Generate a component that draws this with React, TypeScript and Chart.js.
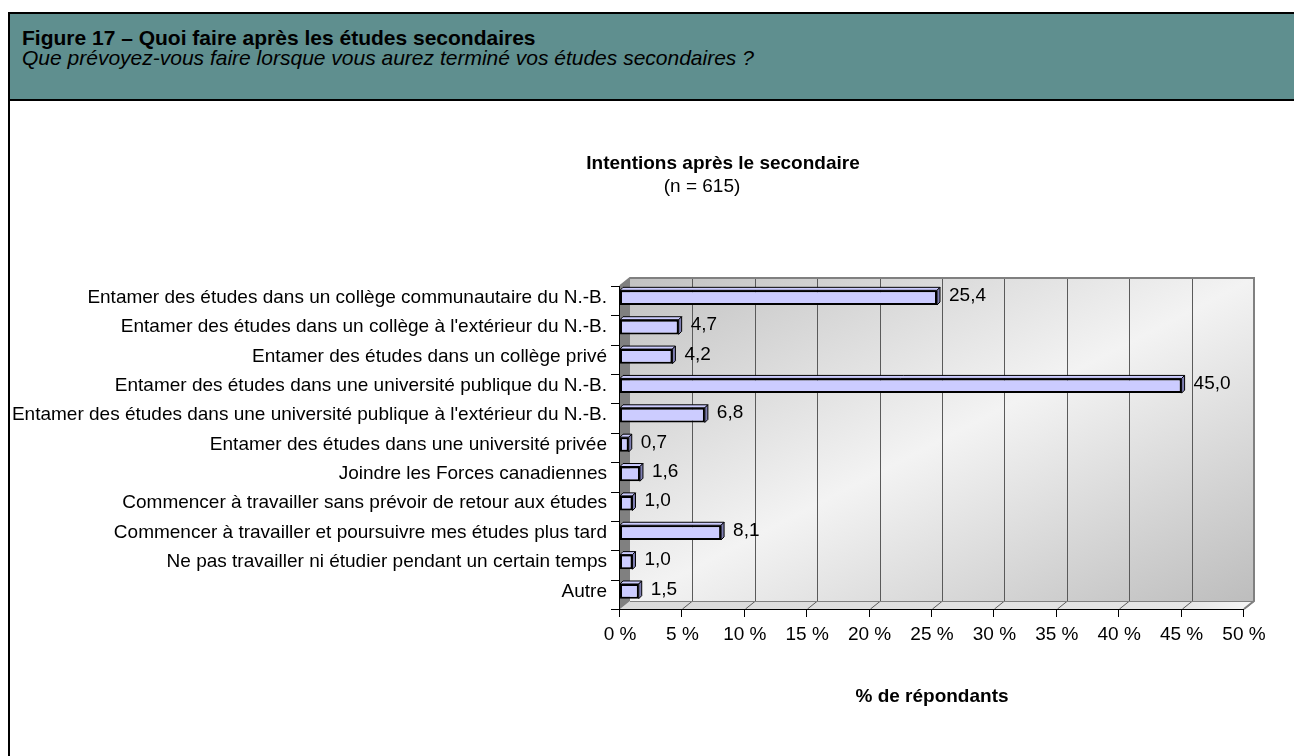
import React, { useEffect, useRef } from "react";
import { Chart, registerables } from "chart.js";

Chart.register(...registerables);

const categories: string[] = [
  "Entamer des études dans un collège communautaire du N.-B.",
  "Entamer des études dans un collège à l'extérieur du N.-B.",
  "Entamer des études dans un collège privé",
  "Entamer des études dans une université publique du N.-B.",
  "Entamer des études dans une université publique à l'extérieur du N.-B.",
  "Entamer des études dans une université privée",
  "Joindre les Forces canadiennes",
  "Commencer à travailler sans prévoir de retour aux études",
  "Commencer à travailler et poursuivre mes études plus tard",
  "Ne pas travailler ni étudier pendant un certain temps",
  "Autre",
];
const values: number[] = [25.4, 4.7, 4.2, 45.0, 6.8, 0.7, 1.6, 1.0, 8.1, 1.0, 1.5];
const xMin = 0;
const xMax = 50;
const xStep = 5;

const figureTitle = "Figure 17 – Quoi faire après les études secondaires";
const figureSubtitle = "Que prévoyez-vous faire lorsque vous aurez terminé vos études secondaires ?";
const chartTitle = "Intentions après le secondaire";
const chartSubtitle = "(n = 615)";
const axisTitle = "% de répondants";

const FONT = "'Liberation Sans', Arial, Helvetica, sans-serif";
const FS = 19;
const D = 10; // depth dx
const DY = 8; // depth dy
const SHIFT = 3; // front plane offset below category bands

const frame3d = {
  id: "frame3d",
  beforeDatasetsDraw(chart: any) {
    const { ctx, chartArea, scales } = chart;
    const xs = scales.x;
    const x0 = xs.getPixelForValue(xMin);
    const x1 = xs.getPixelForValue(xMax);
    const ft = chartArea.top + SHIFT;
    const fb = chartArea.bottom + SHIFT;
    const bt = ft - DY;
    const bb = fb - DY;
    const bl = x0 + D;
    const br = x1 + D;
    const w = br - bl;
    const h = bb - bt;
    ctx.save();
    const cx = (bl + br) / 2;
    const cy = (bt + bb) / 2;
    const len = Math.hypot(w, h);
    const ux = h / len;
    const uy = w / len;
    const proj = (w / 2) * ux + (h / 2) * uy;
    const g = ctx.createLinearGradient(cx - proj * ux, cy - proj * uy, cx + proj * ux, cy + proj * uy);
    g.addColorStop(0, "#c2c2c2");
    g.addColorStop(0.5, "#f3f3f3");
    g.addColorStop(1, "#bdbdbd");
    ctx.fillStyle = g;
    ctx.fillRect(bl, bt, w, h);
    const fg = ctx.createLinearGradient(x0, 0, br, 0);
    fg.addColorStop(0, "#dadada");
    fg.addColorStop(0.9, "#e6e6e6");
    fg.addColorStop(1, "#f6f6f6");
    ctx.fillStyle = fg;
    ctx.beginPath();
    ctx.moveTo(x0, fb);
    ctx.lineTo(x1, fb);
    ctx.lineTo(br, bb);
    ctx.lineTo(bl, bb);
    ctx.closePath();
    ctx.fill();
    ctx.fillStyle = "#808080";
    ctx.beginPath();
    ctx.moveTo(x0, ft);
    ctx.lineTo(bl, bt);
    ctx.lineTo(bl, bb);
    ctx.lineTo(x0, fb);
    ctx.closePath();
    ctx.fill();
    ctx.strokeStyle = "#5a5a5a";
    ctx.lineWidth = 1;
    for (let v = xMin + xStep; v <= xMax; v += xStep) {
      const x = Math.round(xs.getPixelForValue(v)) + 0.5;
      ctx.beginPath();
      ctx.moveTo(x + D, bt);
      ctx.lineTo(x + D, bb);
      ctx.moveTo(x, fb);
      ctx.lineTo(x + D, bb);
      ctx.stroke();
    }
    ctx.strokeStyle = "#808080";
    ctx.lineWidth = 2;
    ctx.beginPath();
    ctx.moveTo(x0, ft);
    ctx.lineTo(bl, bt);
    ctx.lineTo(br, bt);
    ctx.lineTo(br, bb);
    ctx.lineTo(x1, fb);
    ctx.stroke();
    ctx.lineWidth = 1;
    ctx.beginPath();
    ctx.moveTo(bl, bb + 0.5);
    ctx.lineTo(br, bb + 0.5);
    ctx.stroke();
    ctx.strokeStyle = "#000";
    ctx.lineWidth = 1;
    ctx.beginPath();
    ctx.moveTo(x0 - 0.5, ft);
    ctx.lineTo(x0 - 0.5, fb);
    ctx.moveTo(x0 - 0.5, fb + 0.5);
    ctx.lineTo(x1, fb + 0.5);
    const n = categories.length;
    const band = (chartArea.bottom - chartArea.top) / n;
    for (let i = 0; i <= n; i++) {
      const y = Math.round(ft + i * band) + 0.5;
      ctx.moveTo(x0 - 9, y);
      ctx.lineTo(x0, y);
    }
    for (let v = xMin; v <= xMax; v += xStep) {
      const x = Math.round(xs.getPixelForValue(v)) - 0.5;
      ctx.moveTo(x, fb);
      ctx.lineTo(x, fb + 8);
    }
    ctx.stroke();
    ctx.restore();
  },
  afterDatasetsDraw(chart: any) {
    const { ctx } = chart;
    const meta = chart.getDatasetMeta(0);
    ctx.save();
    const dd = 3;
    meta.data.forEach((bar: any, i: number) => {
      const { x, y, base, height } = bar.getProps(["x", "y", "base", "height"], true);
      const top = y - height / 2;
      const bottom = y + height / 2;
      const left = base;
      const right = x;
      ctx.lineWidth = 1;
      ctx.strokeStyle = "#000";
      ctx.fillStyle = "#ccccff";
      ctx.beginPath();
      ctx.moveTo(left, top);
      ctx.lineTo(left + dd, top - dd);
      ctx.lineTo(right + dd, top - dd);
      ctx.lineTo(right, top);
      ctx.closePath();
      ctx.fill();
      ctx.stroke();
      ctx.fillStyle = "#7f7fb2";
      ctx.beginPath();
      ctx.moveTo(right, top);
      ctx.lineTo(right + dd, top - dd);
      ctx.lineTo(right + dd, bottom - dd);
      ctx.lineTo(right, bottom);
      ctx.closePath();
      ctx.fill();
      ctx.stroke();
      ctx.fillStyle = "#000";
      ctx.font = `${FS}px ${FONT}`;
      ctx.textAlign = "left";
      ctx.textBaseline = "middle";
      ctx.fillText(values[i].toFixed(1).replace(".", ","), right + 12, y - 2);
    });
    ctx.restore();
  },
  afterDraw(chart: any) {
    const { ctx } = chart;
    ctx.save();
    ctx.fillStyle = "#000";
    ctx.textAlign = "center";
    ctx.textBaseline = "middle";
    ctx.font = `bold ${FS}px ${FONT}`;
    ctx.fillText(chartTitle, 723, 164);
    ctx.font = `${FS}px ${FONT}`;
    ctx.fillText(chartSubtitle, 702, 187);
    ctx.font = `bold ${FS}px ${FONT}`;
    ctx.fillText(axisTitle, 932, 697);
    ctx.restore();
  },
};

export default function App() {
  const canvasRef = useRef<HTMLCanvasElement | null>(null);

  useEffect(() => {
    const canvas = canvasRef.current;
    if (!canvas) return;
    const chart = new Chart(canvas, {
      type: "bar",
      data: {
        labels: categories,
        datasets: [
          {
            data: values,
            backgroundColor: "#ccccff",
            borderColor: "#000",
            borderWidth: 2,
            borderSkipped: false,
            barPercentage: 0.5,
            categoryPercentage: 1,
          },
        ],
      },
      plugins: [frame3d],
      options: {
        indexAxis: "y",
        responsive: false,
        animation: false,
        devicePixelRatio: 1,
        layout: { padding: { top: 283, right: 50, bottom: 0, left: 0 } },
        plugins: {
          legend: { display: false },
          tooltip: { enabled: false },
          title: { display: false },
        },
        scales: {
          x: {
            type: "linear",
            min: xMin,
            max: xMax,
            ticks: {
              stepSize: xStep,
              color: "#000",
              font: { family: FONT, size: FS },
              padding: 17,
              callback: (v: any) => `${v} %`,
            },
            grid: { display: false, drawTicks: false },
            border: { display: false },
            afterFit: (s: any) => {
              s.height = 150;
            },
          },
          y: {
            type: "category",
            ticks: {
              color: "#000",
              font: { family: FONT, size: FS },
              padding: 13,
              autoSkip: false,
            },
            grid: { display: false, drawTicks: false },
            border: { display: false },
            afterFit: (s: any) => {
              s.width = 620;
            },
          },
        },
      } as any,
    });
    return () => chart.destroy();
  }, []);

  return (
    <div style={{ position: "fixed", inset: 0, overflow: "hidden", background: "#fff" }}>
      <div
        style={{
          position: "absolute",
          left: 8,
          top: 12,
          width: 1400,
          height: 900,
          border: "2px solid #000",
          boxSizing: "border-box",
        }}
      />
      <div
        style={{
          position: "absolute",
          left: 10,
          top: 14,
          width: 1400,
          height: 85,
          background: "#5f8f8f",
          borderBottom: "2px solid #000",
        }}
      />
      <div
        style={{
          position: "absolute",
          left: 22,
          top: 27,
          fontFamily: FONT,
          fontWeight: "bold",
          fontSize: 21,
          lineHeight: "21px",
          color: "#000",
          whiteSpace: "nowrap",
        }}
      >
        {figureTitle}
      </div>
      <div
        style={{
          position: "absolute",
          left: 22,
          top: 47,
          fontFamily: FONT,
          fontStyle: "italic",
          fontSize: 21,
          lineHeight: "21px",
          color: "#000",
          whiteSpace: "nowrap",
        }}
      >
        {figureSubtitle}
      </div>
      <canvas
        ref={canvasRef}
        width={1294}
        height={756}
        style={{ position: "absolute", left: 0, top: 0, width: 1294, height: 756, pointerEvents: "none" }}
      />
    </div>
  );
}
